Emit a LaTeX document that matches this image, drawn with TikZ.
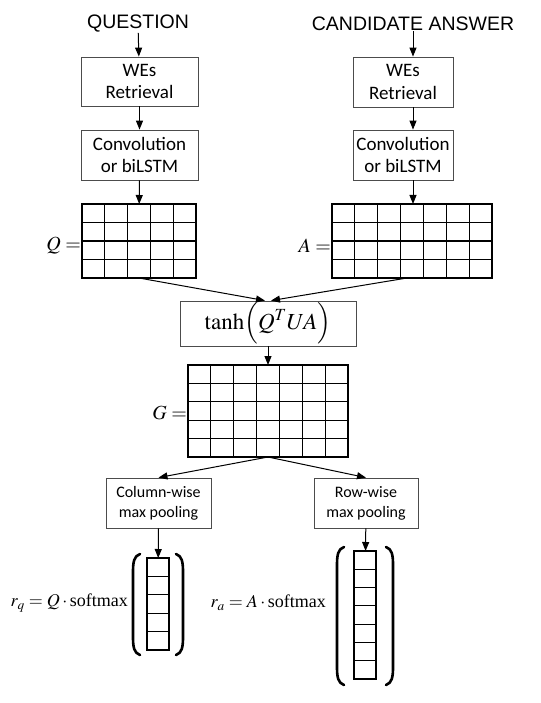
\documentclass[tikz,border=0pt]{standalone}
\usepackage{amsmath}
\usepackage{mathptmx}
\usepackage{fontspec}
\setmainfont{Liberation Serif}
\newfontfamily\headfont{Liberation Sans}
\newfontfamily\boxfont{Carlito}
\usetikzlibrary{arrows.meta,shadows}

\begin{document}
\begin{tikzpicture}[x=1pt,y=-1pt,
    stepbox/.style={draw=black!70, line width=0.8pt, fill=white, inner sep=0pt, align=center,
      font=\boxfont\fontsize{19}{22.5}\selectfont,
      drop shadow={shadow xshift=1.3pt, shadow yshift=-1.3pt, opacity=0.25, fill=black}},
    poolbox/.style={stepbox, font=\boxfont\fontsize{16}{20}\selectfont},
    headtext/.style={font=\headfont\fontsize{19.5}{22}\selectfont, inner sep=0pt},
    matnode/.style={inner sep=0pt, outer sep=0pt},
    gridline/.style={line width=1.2pt, line cap=rect},
    eqtext/.style={font=\fontsize{20}{24}\selectfont, inner sep=0pt},
    parenline/.style={line width=2.6pt, line cap=round},
    flowarrow/.style={line width=1pt, -{Triangle[length=9pt,width=7pt]}}]

     \useasboundingbox (0,0) rectangle (540,703);

     \path (138,24) node[headtext] (question) {QUESTION};
     \path (413,24) node[headtext] (answer) {CANDIDATE ANSWER};

     \path (139.5,81.5) node[stepbox, minimum width=117pt, minimum height=49pt] (qwe) {WEs\\Retrieval};
     \path (139.5,155) node[stepbox, minimum width=117pt, minimum height=50pt] (qconv) {Convolution\\or biLSTM};
     \path (403,82) node[stepbox, minimum width=100pt, minimum height=50pt] (awe) {WEs\\Retrieval};
     \path (403,155) node[stepbox, minimum width=100pt, minimum height=50pt] (aconv) {Convolution\\or biLSTM};

     \path (139,241) node[matnode, minimum width=114pt, minimum height=74pt] (qmat) {};
     \path (412,241) node[matnode, minimum width=160pt, minimum height=74pt] (amat) {};
     \foreach \i in {0,...,5}
       \draw[gridline] ([xshift=\i*22.8pt]qmat.north west) -- ([xshift=\i*22.8pt]qmat.south west);
     \foreach \j in {0,...,4}
       \draw[gridline] ([yshift=-\j*18.5pt]qmat.north west) -- ([yshift=-\j*18.5pt]qmat.north east);
     \foreach \i in {0,...,7}
       \draw[gridline] ([xshift=\i*22.857pt]amat.north west) -- ([xshift=\i*22.857pt]amat.south west);
     \foreach \j in {0,...,4}
       \draw[gridline] ([yshift=-\j*18.5pt]amat.north west) -- ([yshift=-\j*18.5pt]amat.north east);
     \path (81,246) node[eqtext, anchor=east] (qlab) {$Q=$};
     \path (331,246) node[eqtext, anchor=east] (alab) {$A=$};

     \path (268,323.5) node[stepbox, font=\fontsize{23}{27.6}\selectfont, minimum width=176pt, minimum height=45pt] (tanhbox) {$\tanh\Bigl(Q^{T}UA\Bigr)$};

     \path (268,411) node[matnode, minimum width=160pt, minimum height=92pt] (gmat) {};
     \foreach \i in {0,...,7}
       \draw[gridline] ([xshift=\i*22.857pt]gmat.north west) -- ([xshift=\i*22.857pt]gmat.south west);
     \foreach \j in {0,...,5}
       \draw[gridline] ([yshift=-\j*18.4pt]gmat.north west) -- ([yshift=-\j*18.4pt]gmat.north east);
     \path (187,413) node[eqtext, anchor=east] (glab) {$G=$};

     \path (158.5,503) node[poolbox, minimum width=105pt, minimum height=50pt] (colbox) {Column-wise\\max pooling};
     \path (366,503) node[poolbox, minimum width=104pt, minimum height=50pt] (rowbox) {Row-wise\\max pooling};

     \path (158,604) node[matnode, minimum width=22pt, minimum height=92pt] (qvec) {};
     \path (365,615) node[matnode, minimum width=22pt, minimum height=128pt] (avec) {};
     \draw[line width=1.1pt] (qvec.north west) rectangle (qvec.south east);
     \foreach \j in {1,...,4}
       \draw[line width=1.1pt] ([yshift=-\j*18.4pt]qvec.north west) -- ([yshift=-\j*18.4pt]qvec.north east);
     \draw[line width=1.1pt] (avec.north west) rectangle (avec.south east);
     \foreach \j in {1,...,6}
       \draw[line width=1.1pt] ([yshift=-\j*18.286pt]avec.north west) -- ([yshift=-\j*18.286pt]avec.north east);

     \draw[parenline] (140,554) .. controls (134,556) and (133,562) .. (133,572) -- (133,637) .. controls (133,647) and (134,653) .. (140,655);
     \draw[parenline] (176,554) .. controls (182,556) and (183,562) .. (183,572) -- (183,637) .. controls (183,647) and (182,653) .. (176,655);
     \draw[parenline] (344,547) .. controls (338,549) and (337,555) .. (337,565) -- (337,667) .. controls (337,677) and (338,683) .. (344,685);
     \draw[parenline] (386,547) .. controls (392,549) and (393,555) .. (393,565) -- (393,667) .. controls (393,677) and (392,683) .. (386,685);

     \path (128,603) node[eqtext, anchor=east, font=\fontsize{18}{22}\selectfont] (rq) {$r_q = Q\cdot\text{softmax}$};
     \path (326,603) node[eqtext, anchor=east, font=\fontsize{18}{22}\selectfont] (ra) {$r_a = A\cdot\text{softmax}$};

     \draw[flowarrow] (question) -- (qwe);
     \draw[flowarrow] (qwe) -- (qconv);
     \draw[flowarrow] (qconv) -- (qmat);
     \draw[flowarrow] (answer) -- (answer |- awe.north);
     \draw[flowarrow] (answer |- awe.south) -- (answer |- aconv.north);
     \draw[flowarrow] (answer |- aconv.south) -- (answer |- amat.north);
     \draw[flowarrow] (qmat.south) -- ([xshift=-3pt]tanhbox.north);
     \draw[flowarrow] ([xshift=-5pt]amat.south) -- ([xshift=3pt]tanhbox.north);
     \draw[flowarrow] (tanhbox) -- (gmat);
     \draw[flowarrow] (gmat.south) -- (colbox.north);
     \draw[flowarrow] (gmat.south) -- (rowbox.north);
     \draw[flowarrow] (colbox) -- (qvec);
     \draw[flowarrow] (rowbox) -- (avec);

   \end{tikzpicture}
\end{document}
